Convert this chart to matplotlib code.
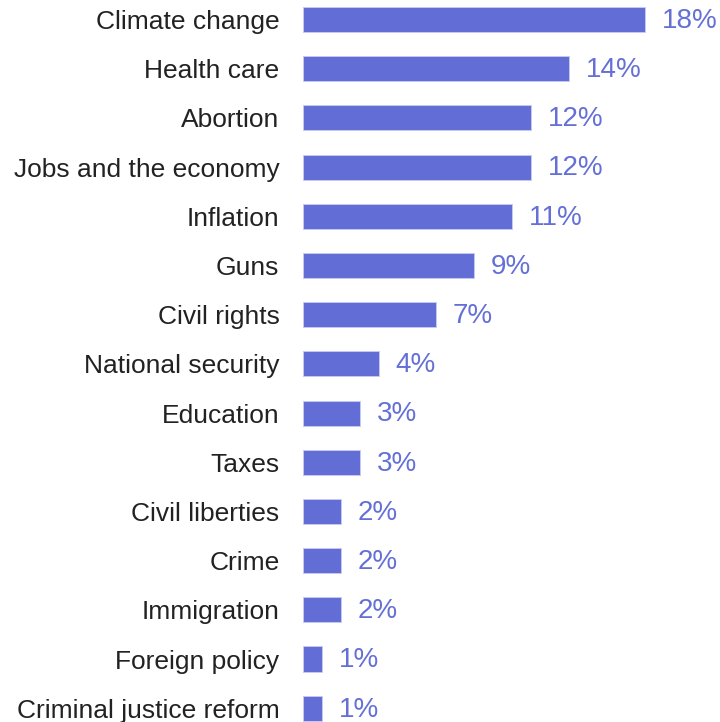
import matplotlib
matplotlib.use("Agg")
import matplotlib.pyplot as plt

plt.rcParams['font.family'] = ['Liberation Sans', 'DejaVu Sans']

issues = ["Climate change", "Health care", "Abortion", "Jobs and the economy",
          "Inflation", "Guns", "Civil rights", "National security", "Education",
          "Taxes", "Civil liberties", "Crime", "Immigration", "Foreign policy",
          "Criminal justice reform"]
shares = [18, 14, 12, 12, 11, 9, 7, 4, 3, 3, 2, 2, 2, 1, 1]

bar_color = "#636dd6"
text_color = "#6470d6"

fig = plt.figure(figsize=(7.2, 7.22), dpi=100)
ax = fig.add_axes([303 / 720, 0, 417 / 720, 1])

ypos = list(range(len(issues)))
ax.barh(ypos, shares, height=0.51, color=bar_color, edgecolor="#c8ccf0", linewidth=0.6)

for y, v in zip(ypos, shares):
    ax.annotate("%d%%" % v, xy=(v, y), xytext=(12, -1), textcoords="offset points",
                ha="left", va="center", fontsize=20, color=text_color)

ax.set_yticks(ypos)
ax.set_yticklabels(issues, fontsize=19, color="#222222")
ax.tick_params(axis="y", length=0, pad=17)
ax.set_xticks([])
ax.set_xlim(0, 417 / 19.0)
ax.set_ylim(14.28, -0.396)
for s in ax.spines.values():
    s.set_visible(False)

fig.savefig("out.png", dpi=100)
